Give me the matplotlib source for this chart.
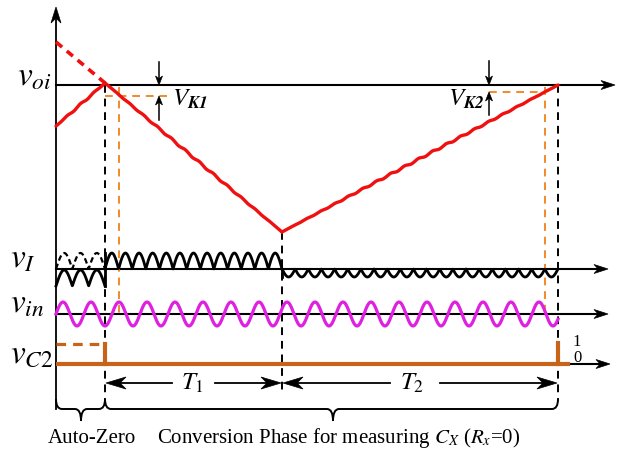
import numpy as np
import matplotlib.pyplot as plt
from matplotlib.patches import Polygon, PathPatch
from matplotlib.path import Path

plt.rcParams['font.family'] = ['Liberation Serif', 'DejaVu Serif']
plt.rcParams['mathtext.fontset'] = 'stix'

# the drawing is laid out in pixel units (y grows downward)
W, H = 633, 456

# time instants: start, end of auto-zero, end of T1, end of T2
t_start, t_az, t_mid, t_end = 56, 105, 282, 558

# baselines of the four traces
y_voi, y_vi, y_vin, y_vc2 = 86, 270, 315, 365

# integrator output v_oi (corner points)
voi_x = [56, 105, 282, 558]
voi_y = [127, 84, 233, 86]
voi_dash_x = [56, 105]
voi_dash_y = [43, 84]

# comparator thresholds V_K1, V_K2 and where the ramp crosses them
vk1_y, vk1_x, vk1_arrow_x = 97, 119, 159
vk2_y, vk2_x, vk2_arrow_x = 93, 545, 489

# ripple / signal parameters
vin_period = 28
vin_amp = 12
vi_amp = 16
vi_small_amp = 8
n_arch_az = 3
n_arch_t1 = 13
n_arch_t2 = 21

RED = '#f01010'
MAG = '#e020e0'
ORG = '#f08a2a'
BRN = '#c8641a'

fig = plt.figure(figsize=(6.33, 4.56), dpi=100)
ax = fig.add_axes([0, 0, 1, 1])
ax.set_xlim(0, W)
ax.set_ylim(H, 0)
ax.axis('off')


def head(tx, ty, dx, dy, L, hw, color='k'):
    px, py = -dy, dx
    bx, by = tx - dx * L, ty - dy * L
    nx, ny = tx - dx * L * 0.7, ty - dy * L * 0.7
    pts = [(tx, ty), (bx + px * hw, by + py * hw), (nx, ny), (bx - px * hw, by - py * hw)]
    ax.add_patch(Polygon(pts, closed=True, facecolor=color, edgecolor=color, lw=0.5, zorder=6))


def brace(x0, x1, xm, y, h=10, r=6):
    verts = [(x0, y - h), (x0, y), (x0 + r, y), (xm - r, y), (xm, y), (xm, y + h * 1.2),
             (xm, y), (xm + r, y), (x1 - r, y), (x1, y), (x1, y - h)]
    codes = [Path.MOVETO, Path.CURVE3, Path.CURVE3, Path.LINETO, Path.CURVE3, Path.CURVE3,
             Path.CURVE3, Path.CURVE3, Path.LINETO, Path.CURVE3, Path.CURVE3]
    ax.add_patch(PathPatch(Path(verts, codes), fill=False, lw=1.4, ec='k'))


# main vertical axis
ax.plot([t_start, t_start], [410, 20], color='k', lw=1.3)
head(t_start, 8, 0, -1, 16, 5)

# horizontal axes
for yy, xe in [(y_voi, 615), (y_vi, 608), (y_vin, 608), (y_vc2, 610)]:
    ax.plot([t_start, xe - 8], [yy, yy], color='k', lw=1.5, zorder=2)
    head(xe, yy, 1, 0, 14, 4.5)

# black dashed time markers
dash = dict(color='k', lw=1.4, dashes=(4, 3), zorder=1)
ax.plot([t_az, t_az], [86, 400], **dash)
ax.plot([t_mid, t_mid], [233, 392], **dash)
ax.plot([t_end, t_end], [86, 402], **dash)

# v_oi ramps with small ripple
def ramp(a, b, n=300):
    x = np.linspace(a, b, n)
    y = np.interp(x, voi_x, voi_y)
    y = y + 0.9 * np.sin(2 * np.pi * (x - a) / 14) * np.sin(np.pi * (x - a) / (b - a))
    return x, y

for a, b in [(voi_x[0], voi_x[1]), (voi_x[1], voi_x[2]), (voi_x[2], voi_x[3])]:
    x, y = ramp(a, b)
    ax.plot(x, y, color=RED, lw=2.4, solid_capstyle='round', zorder=4)
ax.plot(voi_dash_x, voi_dash_y, color=RED, lw=2.6, dashes=(2.2, 1.7), zorder=4)

# V_K1 / V_K2 markers
odash = dict(color=ORG, lw=1.4, dashes=(4, 3), zorder=3)
ax.plot([t_az, 167], [vk1_y, vk1_y], **odash)
ax.plot([vk1_x, vk1_x], [88, y_vin], **odash)
ax.plot([vk2_arrow_x, vk2_x], [vk2_y, vk2_y], **odash)
ax.plot([vk2_x, vk2_x], [88, y_vin - 2], **odash)

for xa, ytop, ylev, ybot in [(vk1_arrow_x, 63, vk1_y, 121), (vk2_arrow_x, 62, vk2_y, 116)]:
    ax.plot([xa, xa], [ytop, y_voi - 6], color='k', lw=1.1)
    head(xa, y_voi, 0, 1, 9, 3.5)
    ax.plot([xa, xa], [ybot, ylev + 6], color='k', lw=1.1)
    head(xa, ylev, 0, -1, 9, 3.5)

ax.text(172, 106, r'$V_{\mathbfit{K1}}$', fontsize=18, ha='left', va='baseline')
ax.text(448, 106, r'$V_{\mathbfit{K2}}$', fontsize=18, ha='left', va='baseline')

# v_I: rectified signal
x = np.linspace(t_start, t_az, 200)
r = np.abs(np.sin(np.pi * (x - t_start) / ((t_az - t_start) / n_arch_az)))
ax.plot(x, y_vi - vi_amp * r, color='k', lw=1.6, dashes=(2.5, 1.5), zorder=3)
ax.plot(x, y_vi + vi_amp + 1 - vi_amp * r, color='k', lw=2.0, zorder=3)
ax.plot([t_az, t_az], [y_vi - vi_amp, y_vi + vi_amp + 1], color='k', lw=2.0, zorder=3)

x = np.linspace(t_az, t_mid, 500)
r = np.abs(np.sin(np.pi * (x - t_az) / ((t_mid - t_az) / n_arch_t1)))
ax.plot(x, y_vi - vi_amp * r, color='k', lw=2.0, zorder=3)

x = np.linspace(t_mid, t_end, 700)
r = np.abs(np.sin(np.pi * (x - t_mid) / ((t_end - t_mid) / n_arch_t2)))
ax.plot(x, y_vi + vi_small_amp * r, color='k', lw=2.0, zorder=3)
ax.plot([t_mid, t_mid], [y_vi, y_vi + vi_small_amp], color='k', lw=2.0, zorder=3)

# v_in
x = np.linspace(t_start, t_end, 1200)
ax.plot(x, y_vin - vin_amp * np.sin(2 * np.pi * (x - t_start) / vin_period), color=MAG, lw=2.3, zorder=4)

# v_C2
ax.plot([t_start, t_az], [345, 345], color=BRN, lw=2.3, dashes=(3, 2.2))
ax.plot([t_start, 570], [y_vc2, y_vc2], color=BRN, lw=3, zorder=3, solid_capstyle='butt')
ax.plot([t_az, t_az], [345, y_vc2], color=BRN, lw=3, zorder=3)
ax.plot([t_end, t_end], [344, y_vc2], color=BRN, lw=3, zorder=3)
ax.text(577, 342, '1', fontsize=12, ha='center', va='center')
ax.text(577, 358, '0', fontsize=12, ha='center', va='center')

# trace labels
ax.text(17, 86, r'$v_{oi}$', fontsize=24, ha='left', va='baseline')
ax.text(10, 268, r'$v_I$', fontsize=24, ha='left', va='baseline')
ax.text(10, 313, r'$v_{in}$', fontsize=24, ha='left', va='baseline')
ax.text(10, 363, r'$v_{C2}$', fontsize=24, ha='left', va='baseline')

# T1 / T2 arrows
y_t = 384
for a, b, xl, xr, xc, lab in [(t_az, t_mid, 172, 215, 192, r'$T_1$'),
                               (t_mid, t_end, 390, 440, 412, r'$T_2$')]:
    ax.plot([a + 10, xl], [y_t, y_t], color='k', lw=1.3)
    ax.plot([xr, b - 10], [y_t, y_t], color='k', lw=1.3)
    head(a + 1, y_t, -1, 0, 20, 6)
    head(b - 1, y_t, 1, 0, 20, 6)
    ax.text(xc, y_t + 6, lab, fontsize=18, ha='center', va='baseline')

# phase braces and captions
brace(t_start, t_az, 81, 410)
brace(t_az, t_end, 333, 410)
ax.text(92, 443, 'Auto-Zero', fontsize=15, ha='center', va='baseline')
ax.text(339, 443, r'Conversion Phase for measuring $C_X$ ($R_x$=0)', fontsize=15,
        ha='center', va='baseline')

fig.savefig('out.png', dpi=100)
